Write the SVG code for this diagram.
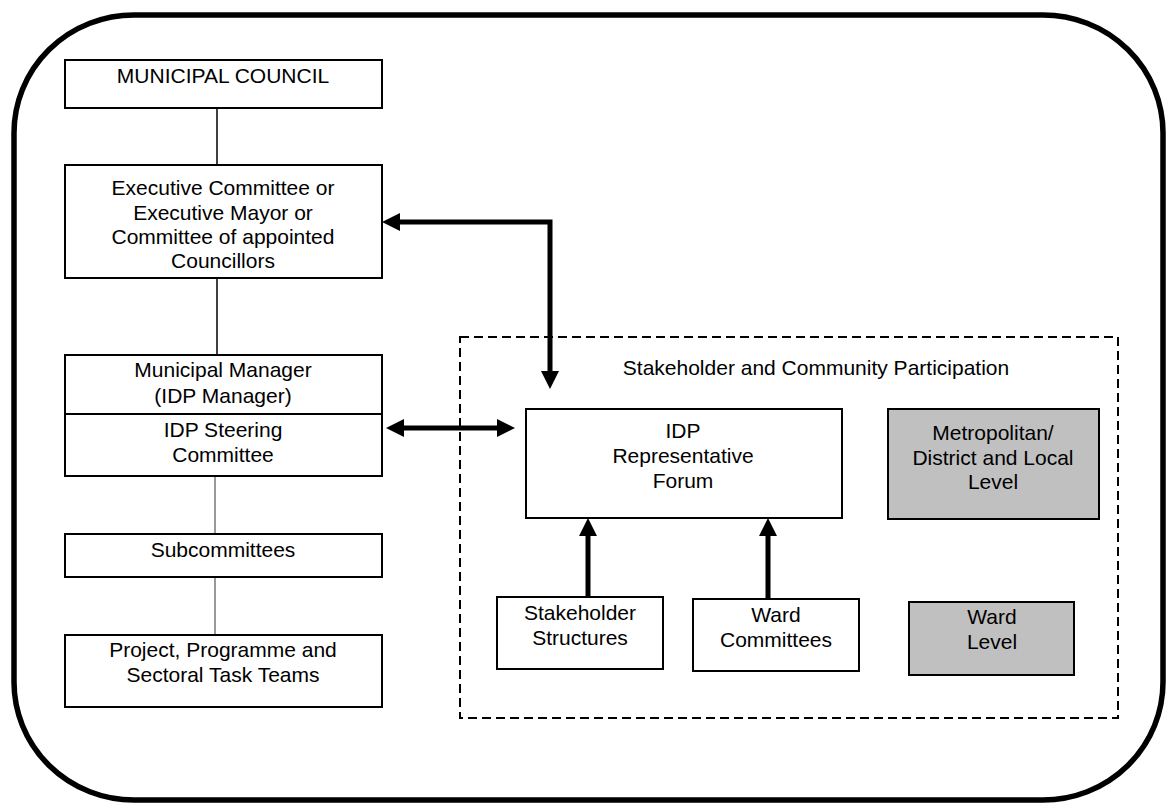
<svg xmlns="http://www.w3.org/2000/svg" width="1166" height="803" viewBox="0 0 1166 803">
  <style>
    text { font-family: "Liberation Sans", Arial, sans-serif; font-size: 21px; fill: #000; text-anchor: middle; }
    .box { fill: #fff; stroke: #000; stroke-width: 2; }
    .grey { fill: #c0c0c0; stroke: #000; stroke-width: 2; }
    .link { stroke: #000; stroke-width: 1.5; fill: none; }
    .link-thin { stroke: #555; stroke-width: 1.2; fill: none; }
    .flow { stroke: #000; stroke-width: 5; fill: none; }
  </style>
  <defs>
    <marker id="head" markerUnits="userSpaceOnUse" markerWidth="20" markerHeight="20" refX="2" refY="9" orient="auto-start-reverse">
      <path d="M0,0 L18,9 L0,18 z" fill="#000"/>
    </marker>
  </defs>

  <rect width="1166" height="803" fill="#fff"/>

  <!-- outer frame -->
  <rect x="14" y="15" width="1149" height="785" rx="120" ry="118" fill="none" stroke="#000" stroke-width="5.5"/>

  <!-- participation area -->
  <g id="participation">
    <rect x="460" y="337" width="658" height="381" fill="none" stroke="#000" stroke-width="2" stroke-dasharray="9 5"/>
    <text x="816" y="375">Stakeholder and Community Participation</text>
  </g>

  <!-- connectors -->
  <g id="connectors">
    <line class="link" x1="217" y1="108" x2="217" y2="165"/>
    <line class="link" x1="217" y1="278" x2="217" y2="355"/>
    <line class="link-thin" x1="215" y1="476" x2="215" y2="534"/>
    <line class="link-thin" x1="215" y1="577" x2="215" y2="635"/>
    <path class="flow" d="M398,222 L550,222 L550,373" marker-start="url(#head)" marker-end="url(#head)"/>
    <path class="flow" d="M402,428 L499,428" marker-start="url(#head)" marker-end="url(#head)"/>
    <path class="flow" d="M588,597 L588,534" marker-end="url(#head)"/>
    <path class="flow" d="M768,599 L768,534" marker-end="url(#head)"/>
  </g>

  <g id="municipal-council">
    <rect class="box" x="65" y="60" width="317" height="48"/>
    <text x="223" y="83">MUNICIPAL COUNCIL</text>
  </g>

  <g id="executive">
    <rect class="box" x="65" y="165" width="317" height="113"/>
    <text x="223" y="195">Executive Committee or</text>
    <text x="223" y="220">Executive Mayor or</text>
    <text x="223" y="244">Committee of appointed</text>
    <text x="223" y="268">Councillors</text>
  </g>

  <g id="municipal-manager">
    <rect class="box" x="65" y="355" width="317" height="59"/>
    <text x="223" y="377">Municipal Manager</text>
    <text x="223" y="403">(IDP Manager)</text>
  </g>

  <g id="steering-committee">
    <rect class="box" x="65" y="414" width="317" height="62"/>
    <text x="223" y="437">IDP Steering</text>
    <text x="223" y="462">Committee</text>
  </g>

  <g id="subcommittees">
    <rect class="box" x="65" y="534" width="317" height="43"/>
    <text x="223" y="557">Subcommittees</text>
  </g>

  <g id="task-teams">
    <rect class="box" x="65" y="635" width="317" height="72"/>
    <text x="223" y="657">Project, Programme and</text>
    <text x="223" y="682">Sectoral Task Teams</text>
  </g>

  <g id="representative-forum">
    <rect class="box" x="526" y="409" width="316" height="109"/>
    <text x="683" y="438">IDP</text>
    <text x="683" y="463">Representative</text>
    <text x="683" y="488">Forum</text>
  </g>

  <g id="stakeholder-structures">
    <rect class="box" x="497" y="597" width="166" height="72"/>
    <text x="580" y="620">Stakeholder</text>
    <text x="580" y="645">Structures</text>
  </g>

  <g id="ward-committees">
    <rect class="box" x="693" y="599" width="166" height="72"/>
    <text x="776" y="622">Ward</text>
    <text x="776" y="647">Committees</text>
  </g>

  <g id="metro-level">
    <rect class="grey" x="888" y="409" width="211" height="110"/>
    <text x="993" y="440">Metropolitan/</text>
    <text x="993" y="465">District and Local</text>
    <text x="993" y="489">Level</text>
  </g>

  <g id="ward-level">
    <rect class="grey" x="909" y="602" width="165" height="73"/>
    <text x="992" y="624">Ward</text>
    <text x="992" y="649">Level</text>
  </g>
</svg>
